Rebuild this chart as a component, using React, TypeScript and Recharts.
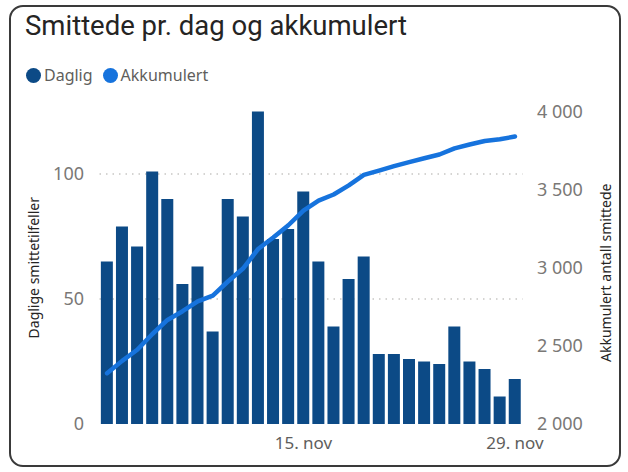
import { ComposedChart, Bar, Line, XAxis, YAxis, CartesianGrid, Label } from 'recharts';

const dates = [
  '2. nov', '3. nov', '4. nov', '5. nov', '6. nov', '7. nov', '8. nov',
  '9. nov', '10. nov', '11. nov', '12. nov', '13. nov', '14. nov', '15. nov',
  '16. nov', '17. nov', '18. nov', '19. nov', '20. nov', '21. nov', '22. nov',
  '23. nov', '24. nov', '25. nov', '26. nov', '27. nov', '28. nov', '29. nov',
];

const daily = [
  65, 79, 71, 101, 90, 56, 63, 37, 90, 83, 125, 74, 78, 93,
  65, 39, 58, 67, 28, 28, 26, 25, 24, 39, 25, 22, 11, 18,
];

const cumulative = [
  2325, 2404, 2475, 2576, 2666, 2722, 2785, 2822, 2912, 2995, 3120, 3194, 3272, 3365,
  3430, 3469, 3527, 3594, 3622, 3650, 3676, 3701, 3725, 3764, 3789, 3811, 3822, 3840,
];

const xTicks = ['15. nov', '29. nov'];
const leftTicks = [0, 50, 100];
const rightTicks = [2000, 2500, 3000, 3500, 4000];

const legendItems = [
  { name: 'Daglig', color: '#0C4A86' },
  { name: 'Akkumulert', color: '#1673DD' },
];

const data = dates.map((date, i) => ({ date, daily: daily[i], cumulative: cumulative[i] }));

const fmtThousands = (v: number) =>
  v >= 1000 ? `${Math.floor(v / 1000)} ${String(v % 1000).padStart(3, '0')}` : String(v);

const FONT = '"Noto Sans", "Open Sans", sans-serif';
const tickStyle = { fontSize: 18, fill: '#7a7876', fontFamily: FONT };

const AxisTitle = (props: any) => {
  const { viewBox, value, dx, dy = 0 } = props;
  const cx = viewBox.x + dx;
  const cy = viewBox.y + viewBox.height / 2 + dy;
  return (
    <text
      x={cx}
      y={cy}
      transform={`rotate(-90, ${cx}, ${cy})`}
      textAnchor="middle"
      dominantBaseline="central"
      fontSize={14}
      fill="#252423"
      fontFamily={FONT}
    >
      {value}
    </text>
  );
};

export default function App() {
  return (
    <div style={{ position: 'absolute', left: 0, top: 0, width: 628, height: 472, background: '#fff' }}>
      <div
        style={{
          position: 'absolute', left: 9, top: 5, width: 608, height: 458,
          border: '2px solid #3a3a3a', borderRadius: 14,
        }}
      />
      <div
        style={{
          position: 'absolute', left: 25, top: 9, fontSize: 27.5, color: '#252423',
          fontFamily: 'Roboto, sans-serif', whiteSpace: 'nowrap',
        }}
      >
        Smittede pr. dag og akkumulert
      </div>
      <div style={{ position: 'absolute', left: 26, top: 64, display: 'flex', gap: 10, fontFamily: FONT, fontSize: 16, color: '#605e5c' }}>
        {legendItems.map((item) => (
          <div key={item.name} style={{ display: 'flex', alignItems: 'center', gap: 3 }}>
            <span style={{ width: 15, height: 15, borderRadius: 8, background: item.color, display: 'inline-block' }} />
            <span>{item.name}</span>
          </div>
        ))}
      </div>
      <ComposedChart
        width={628}
        height={472}
        data={data}
        margin={{ top: 111.5, right: 10.5, bottom: 18, left: 20 }}
        barCategoryGap="9%"
        style={{ position: 'absolute', left: 0, top: 0 }}
      >
        <CartesianGrid
          vertical={false}
          yAxisId="left"
          horizontalValues={[50, 100]}
          stroke="#c8c6c4"
          strokeDasharray="1.5 5"
          strokeWidth={1.5}
        />
        <XAxis
          dataKey="date"
          ticks={xTicks}
          interval={0}
          axisLine={false}
          tickLine={false}
          tickSize={0}
          tickMargin={13}
          height={30}
          tick={{ ...tickStyle, fontSize: 17, fill: '#605e5c' }}
        />
        <YAxis
          yAxisId="left"
          orientation="left"
          domain={[0, 125]}
          ticks={leftTicks}
          width={79.5}
          axisLine={false}
          tickLine={false}
          tickSize={0}
          tickMargin={15.5}
          tick={tickStyle}
        >
          <Label content={(p: any) => <AxisTitle {...p} value="Daglige smittetilfeller" dx={13} />} />
        </YAxis>
        <YAxis
          yAxisId="right"
          orientation="right"
          domain={[2000, 4000]}
          ticks={rightTicks}
          width={95}
          axisLine={false}
          tickLine={false}
          tickSize={0}
          tickMargin={14.5}
          tick={tickStyle}
          tickFormatter={fmtThousands}
        >
          <Label content={(p: any) => <AxisTitle {...p} value="Akkumulert antall smittede" dx={82.5} dy={5} />} />
        </YAxis>
        <Bar yAxisId="left" dataKey="daily" fill="#0C4A86" isAnimationActive={false} />
        <Line
          yAxisId="right"
          dataKey="cumulative"
          type="linear"
          stroke="#1673DD"
          strokeWidth={4.5}
          strokeLinecap="round"
          strokeLinejoin="round"
          dot={false}
          activeDot={false}
          isAnimationActive={false}
        />
      </ComposedChart>
    </div>
  );
}
